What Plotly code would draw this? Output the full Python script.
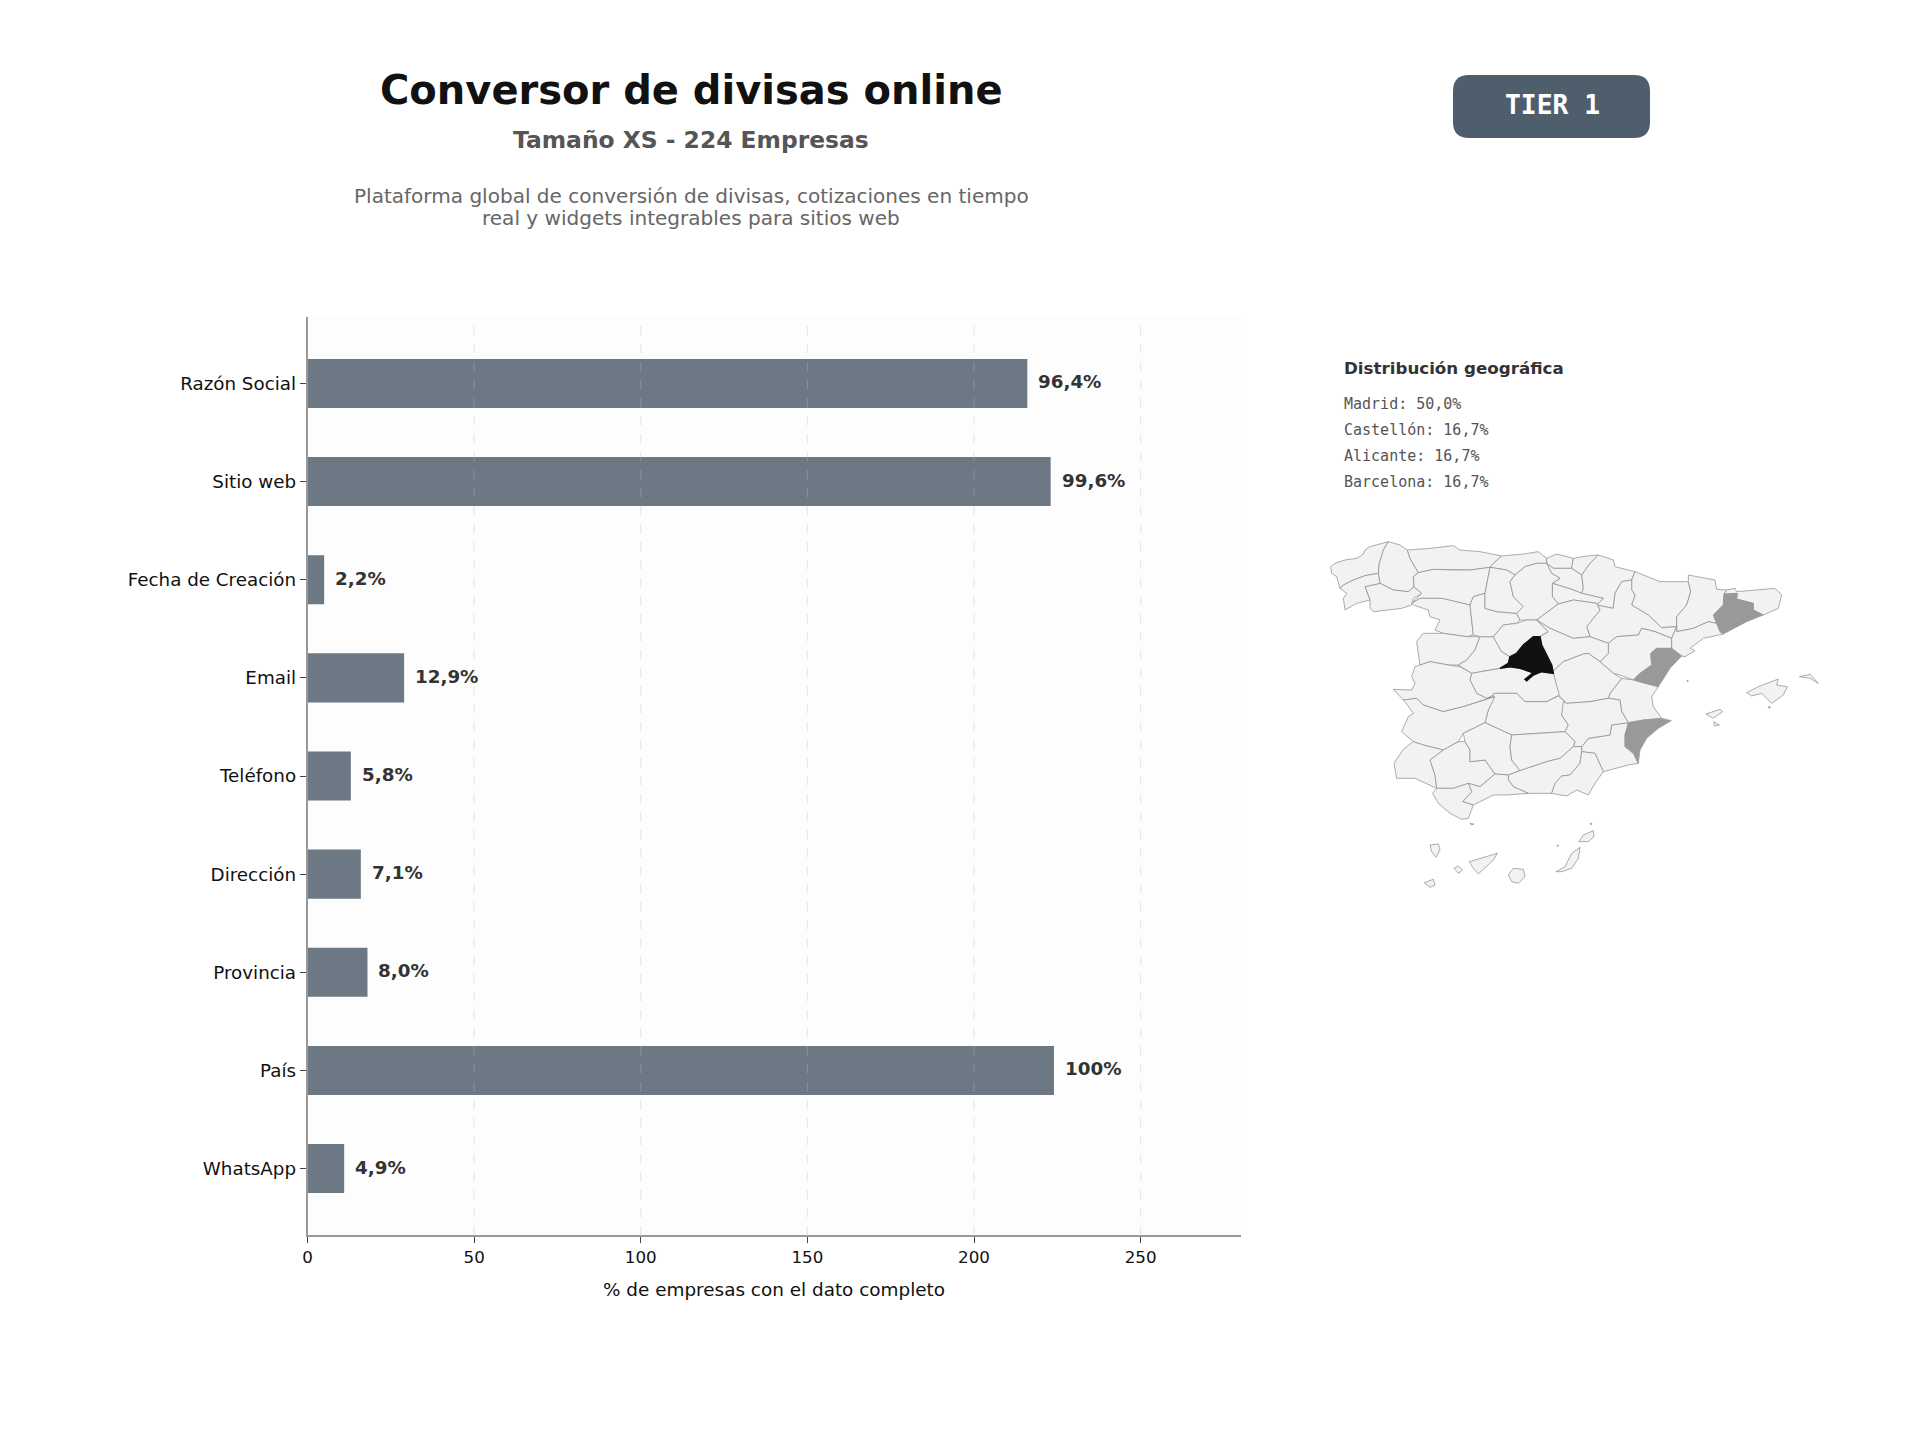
import plotly.graph_objects as go

# bar chart data
campos = ['Razón Social', 'Sitio web', 'Fecha de Creación', 'Email', 'Teléfono', 'Dirección', 'Provincia', 'País', 'WhatsApp']
empresas = [216, 223, 5, 29, 13, 16, 18, 224, 11]
etiquetas = ['96,4%', '99,6%', '2,2%', '12,9%', '5,8%', '7,1%', '8,0%', '100%', '4,9%']
ticks_x = [0, 50, 100, 150, 200, 250]

# geographic share
provincias_top = ['Madrid', 'Castellón', 'Alicante', 'Barcelona']
shares_top = [50.0, 16.7, 16.7, 16.7]
shares_txt = ['50,0%', '16,7%', '16,7%', '16,7%']

# province outlines, in map units
galicia = {
    'A Coruña': [(92,140),(105,130),(135,120),(170,115),(190,102),(195,90),(210,80),(240,72),(265,65),(250,90),(238,130),(235,160),(195,167),(160,180),(130,195),(120,205),(110,170),(95,160)],
    'Lugo': [(265,65),(300,75),(322,90),(330,115),(355,158),(340,170),(342,200),(325,215),(280,210),(240,190),(235,160),(238,130),(250,90)],
    'Ourense': [(195,200),(240,190),(280,210),(325,215),(342,200),(365,220),(340,235),(335,255),(305,265),(265,270),(220,275),(210,265),(210,240)],
    'Pontevedra': [(130,195),(160,180),(195,167),(235,160),(240,190),(195,200),(210,240),(170,250),(135,270),(130,235),(140,220),(120,205)],
}
norte = {
    'Asturias': [(322,90),(390,85),(460,77),(480,90),(540,95),(605,108),(580,130),(570,142),(510,150),(460,150),(400,148),(355,158),(330,115)],
    'Cantabria': [(605,108),(670,102),(715,95),(740,115),(740,130),(710,130),(675,140),(645,165),(620,150),(570,142),(580,130)],
    'Vizcaya': [(740,115),(770,102),(820,115),(815,145),(760,145),(740,130)],
    'Guipúzcoa': [(820,115),(860,108),(895,105),(870,130),(845,165),(815,145)],
    'Álava': [(740,130),(760,145),(815,145),(845,165),(850,205),(845,220),(815,208),(757,190),(780,175),(755,160)],
    'Navarra': [(895,105),(940,120),(945,140),(1005,155),(995,180),(965,185),(945,220),(940,265),(890,255),(910,235),(845,220),(850,205),(845,165),(870,130)],
    'La Rioja': [(757,190),(815,208),(845,220),(910,235),(890,255),(890,250),(820,240),(775,252),(757,230)],
}
aragon_cat = {
    'Huesca': [(1005,155),(1045,170),(1080,185),(1165,185),(1172,215),(1160,255),(1130,290),(1130,320),(1085,323),(1045,285),(995,255),(1005,225),(995,210),(995,180)],
    'Zaragoza': [(940,265),(945,220),(965,185),(995,180),(995,210),(1005,225),(995,255),(1045,285),(1085,323),(1130,320),(1115,355),(1065,335),(1025,325),(1015,345),(950,350),(925,370),(870,350),(860,320),(900,270),(890,250),(890,255)],
    'Teruel': [(925,370),(950,350),(1015,345),(1025,325),(1065,335),(1115,355),(1115,385),(1070,385),(1052,400),(1055,435),(1020,460),(1000,480),(960,465),(940,460),(900,425),(925,400)],
    'Lleida': [(1165,165),(1245,180),(1250,208),(1280,210),(1272,222),(1270,255),(1240,285),(1250,310),(1225,305),(1180,325),(1130,335),(1130,320),(1130,290),(1160,255),(1172,215),(1165,185)],
    'Girona': [(1280,210),(1305,205),(1310,215),(1380,208),(1425,205),(1445,225),(1435,265),(1390,285),(1360,270),(1360,250),(1310,237),(1312,220),(1272,222)],
    'Barcelona': [(1272,222),(1312,220),(1310,237),(1360,250),(1360,270),(1390,285),(1340,305),(1270,342),(1260,335),(1250,310),(1240,285),(1270,255)],
    'Tarragona': [(1130,335),(1180,325),(1225,305),(1250,310),(1260,335),(1270,342),(1210,355),(1170,385),(1185,392),(1155,410),(1145,408),(1115,385),(1115,355),(1130,320)],
}
levante = {
    'Castellón': [(1052,400),(1070,385),(1115,385),(1145,408),(1110,445),(1075,500),(1035,490),(1000,480),(1020,460),(1055,435)],
    'Valencia': [(1000,480),(1035,490),(1075,500),(1055,530),(1060,560),(1085,595),(1030,600),(985,608),(965,575),(960,540),(925,535),(930,520),(965,475)],
    'Alicante': [(985,608),(1030,600),(1085,595),(1114,602),(1075,625),(1040,655),(1020,690),(1015,730),(1000,700),(975,680),(975,645)],
    'Murcia': [(865,655),(930,645),(935,615),(985,608),(975,645),(975,680),(1000,700),(1015,730),(985,735),(910,755),(885,700),(845,695),(845,680)],
}
castilla = {
    'León': [(355,158),(400,148),(460,150),(510,150),(570,142),(555,220),(520,230),(510,255),(425,235),(360,235),(335,250),(365,220),(342,200),(340,170)],
    'Zamora': [(335,250),(360,235),(425,235),(510,255),(520,345),(500,350),(430,340),(405,330),(420,300),(390,290),(385,270),(340,255)],
    'Salamanca': [(350,365),(370,340),(430,340),(500,350),(540,350),(525,390),(500,420),(475,435),(445,435),(390,425),(360,435),(355,405)],
    'Ávila': [(475,435),(500,420),(525,390),(540,350),(580,350),(585,360),(605,395),(630,410),(625,430),(600,445),(515,460)],
    'Valladolid': [(510,255),(520,230),(555,220),(555,265),(590,275),(650,280),(660,300),(650,310),(610,315),(580,350),(540,350),(520,345)],
    'Palencia': [(570,142),(620,150),(645,165),(630,185),(640,230),(670,260),(650,280),(590,275),(555,265),(555,220)],
    'Burgos': [(645,165),(675,140),(710,130),(740,130),(755,160),(780,175),(757,190),(757,230),(775,252),(750,270),(710,300),(680,300),(660,300),(650,280),(670,260),(640,230),(630,185)],
    'Soria': [(775,252),(820,240),(890,250),(900,270),(860,320),(870,350),(820,355),(750,325),(710,300),(750,270)],
    'Segovia': [(580,350),(610,315),(650,310),(680,300),(710,300),(745,335),(720,350),(700,350),(670,375),(650,400),(630,410),(605,395),(585,360)],
    'Guadalajara': [(710,300),(750,325),(820,355),(870,350),(925,370),(925,400),(900,425),(865,400),(850,402),(790,425),(758,455),(755,435),(740,405),(725,375),(720,350),(745,335)],
    'Cuenca': [(758,455),(790,425),(850,402),(865,400),(900,425),(940,460),(965,475),(930,520),(925,535),(870,545),(800,550),(795,545),(775,525),(760,460)],
    'Madrid': [(600,445),(625,430),(630,410),(650,400),(670,375),(700,350),(720,350),(725,375),(740,405),(755,435),(760,460),(725,455),(700,465),(680,482),(675,478),(700,458),(660,445),(630,440)],
    'Toledo': [(515,460),(600,445),(630,440),(660,445),(700,458),(675,478),(680,482),(700,465),(725,455),(760,460),(778,525),(740,545),(675,545),(650,520),(590,520),(560,535),(530,520),(510,480)],
    'Ciudad Real': [(580,520),(650,520),(675,545),(740,545),(775,528),(795,545),(785,585),(805,615),(795,635),(710,640),(635,645),(555,608),(565,570),(580,530)],
    'Albacete': [(790,545),(785,585),(805,615),(795,635),(825,665),(820,680),(845,680),(865,655),(930,645),(935,615),(985,608),(965,575),(960,540),(925,535),(870,545),(800,550)],
}
oeste = {
    'Cáceres': [(280,508),(335,510),(345,490),(335,470),(345,440),(390,425),(445,435),(480,440),(515,460),(510,480),(530,520),(560,535),(580,530),(550,540),(490,560),(430,575),(370,555),(350,535),(310,540)],
    'Badajoz': [(310,540),(350,535),(370,555),(430,575),(490,560),(550,540),(585,530),(565,570),(555,608),(490,640),(475,665),(430,690),(370,675),(340,665),(305,635),(325,590),(340,580),(315,545)],
}
andalucia = {
    'Huelva': [(340,665),(370,675),(430,690),(390,720),(405,765),(410,805),(345,775),(290,775),(282,730),(310,688)],
    'Sevilla': [(430,690),(475,665),(495,665),(510,690),(510,725),(555,720),(585,762),(540,800),(505,790),(460,805),(410,805),(405,765),(390,720)],
    'Córdoba': [(555,608),(490,640),(495,665),(510,690),(510,725),(555,720),(585,762),(625,765),(660,752),(635,720),(630,680),(635,645)],
    'Jaén': [(635,645),(710,640),(795,635),(825,665),(820,680),(780,715),(740,725),(660,752),(635,720),(630,680)],
    'Granada': [(625,765),(660,752),(740,725),(780,715),(820,680),(845,680),(845,695),(840,730),(810,765),(785,768),(765,790),(755,820),(685,820),(640,800),(625,780)],
    'Almería': [(845,695),(885,700),(910,755),(885,790),(865,825),(830,810),(800,828),(755,820),(765,790),(785,768),(810,765),(840,730)],
    'Málaga': [(505,790),(540,800),(585,762),(625,765),(625,780),(640,800),(685,820),(620,825),(580,825),(520,855),(488,845),(515,815)],
    'Cádiz': [(410,805),(460,805),(505,790),(515,815),(488,845),(520,855),(505,895),(485,898),(450,880),(415,850),(398,820)],
}
islas = {
    'Mallorca': [(1340,518),(1375,500),(1435,477),(1430,495),(1462,500),(1450,525),(1415,550),(1385,520),(1355,528)],
    'Menorca': [(1498,470),(1530,463),(1555,490),(1530,475)],
    'Ibiza': [(1218,582),(1260,568),(1268,575),(1240,595)],
    'Formentera': [(1241,605),(1258,615),(1243,618)],
    'Cabrera': [(1405,560),(1411,560),(1408,566)],
    'Columbretes': [(1161,482),(1165,482),(1163,486)],
    'Ceuta': [(510,910),(522,912),(514,915)],
    'Alborán': [(771,975),(776,976),(773,980)],
    'Alegranza': [(870,910),(876,910),(873,915)],
    'El Hierro': [(373,1088),(400,1078),(405,1095),(390,1102)],
    'La Palma': [(390,975),(415,972),(420,990),(408,1012),(395,995)],
    'La Gomera': [(462,1045),(475,1038),(488,1050),(475,1060)],
    'Tenerife': [(508,1025),(560,1010),(592,1000),(580,1020),(550,1050),(535,1062),(520,1045)],
    'Gran Canaria': [(625,1065),(640,1045),(670,1048),(675,1070),(655,1090),(635,1085)],
    'Fuerteventura': [(768,1055),(795,1040),(815,1000),(840,982),(835,1015),(815,1045),(785,1055)],
    'Lanzarote': [(837,965),(850,945),(880,932),(882,950),(865,965)],
}
outlines = {}
for region in [galicia, norte, aragon_cat, levante, castilla, oeste, andalucia, islas]:
    outlines.update(region)


def province_color(name):
    if name not in provincias_top:
        return '#f2f2f2'
    return '#111111' if shares_top[provincias_top.index(name)] >= 50 else '#999999'


W, H = 1920, 1440
fig = go.Figure()

fig.add_trace(go.Bar(x=empresas, y=campos, orientation='h', marker=dict(color='#6c7883', line_width=0),
                     width=0.5, hoverinfo='skip', showlegend=False))

# light provinces first so the shaded ones stay on top
for name in sorted(outlines, key=lambda n: n in provincias_top):
    pts = outlines[name]
    color = province_color(name)
    xs = [p[0] for p in pts] + [pts[0][0]]
    ys = [p[1] for p in pts] + [pts[0][1]]
    fig.add_trace(go.Scatter(x=xs, y=ys, xaxis='x2', yaxis='y2', mode='lines', fill='toself', fillcolor=color,
                             line=dict(color=color if color != '#f2f2f2' else '#8a8a8a', width=0.7 if color != '#111111' else 1.5),
                             hoverinfo='skip', showlegend=False))

# value labels next to the bars
for c, v, t in zip(campos, empresas, etiquetas):
    fig.add_annotation(x=v, y=c, text='<b>' + t + '</b>', xanchor='left', xshift=9, yshift=1.5, showarrow=False,
                       font=dict(family='DejaVu Sans', size=18.3, color='#333333'))

# grid sits above the bars in the reference
for t in ticks_x[1:]:
    fig.add_shape(type='line', xref='x', yref='paper', x0=t, x1=t, y0=1 - 1235.3 / H, y1=1 - 316.7 / H,
                  line=dict(color='rgba(190,190,190,0.35)', width=1.2, dash='dash'), layer='above')

# panel background only behind the bars
fig.add_shape(type='rect', xref='x domain', yref='y domain', x0=0, x1=1, y0=0, y1=1, fillcolor='#fdfdfd',
              line_width=0, layer='below')


def text(x, y, s, size, color, family='DejaVu Sans', anchor='center'):
    fig.add_annotation(xref='paper', yref='paper', x=x / W, y=1 - y / H, text=s, showarrow=False, xanchor=anchor,
                       yanchor='middle', font=dict(family=family, size=size, color=color))


text(691, 90, '<b>Conversor de divisas online</b>', 40, '#111111')
text(691, 140, '<b>Tamaño XS - 224 Empresas</b>', 23.4, '#555555')
text(691, 196, 'Plataforma global de conversión de divisas, cotizaciones en tiempo', 20.05, '#666666')
text(691, 218, 'real y widgets integrables para sitios web', 20.05, '#666666')
text(1552, 105, '<b>TIER 1</b>', 26.3, '#ffffff', family='DejaVu Sans Mono')
text(1341.5, 368, '<b>Distribución geográfica</b>', 16.7, '#333333', anchor='left')
for i, (p, s) in enumerate(zip(provincias_top, shares_txt)):
    text(1341.5, 404 + i * 26, p + ': ' + s, 15, '#555555', family='DejaVu Sans Mono', anchor='left')

# TIER badge
fig.add_shape(type='path', xref='paper', yref='paper', layer='below', fillcolor='#4f5e6d', line_width=0,
              path='M {0},{1} L {2},{1} Q {3},{1} {3},{4} L {3},{5} Q {3},{6} {2},{6} L {0},{6} Q {7},{6} {7},{5} L {7},{4} Q {7},{1} {0},{1} Z'.format(
                  (1453 + 16) / W, 1 - 75 / H, (1650 - 16) / W, 1650 / W, 1 - 91 / H, 1 - 122 / H, 1 - 138 / H, 1453 / W))

fig.update_layout(
    width=W, height=H, margin=dict(l=0, r=0, t=0, b=0, autoexpand=False), paper_bgcolor='white', plot_bgcolor='white',
    font=dict(family='DejaVu Sans', color='#111111'), bargap=0.5,
    xaxis=dict(domain=[307.5 / W, 1240.6 / W], range=[0, 280], tickvals=ticks_x, showgrid=False, zeroline=False,
               showline=True, linecolor='#999999', linewidth=1.5, ticks='outside', ticklen=6, tickcolor='#444444',
               tickfont=dict(size=16.7), title=dict(text='% de empresas con el dato completo', font=dict(size=18.4), standoff=17)),
    yaxis=dict(domain=[1 - 1235.3 / H, 1 - 316.7 / H], range=[8.68, -0.68], showgrid=False, zeroline=False,
               showline=True, linecolor='#999999', linewidth=1.5, ticks='outside', ticklen=6, tickcolor='#444444',
               tickfont=dict(size=18.3), type='category', categoryorder='array', categoryarray=campos),
    xaxis2=dict(domain=[1300 / W, 1860 / W], range=[0, 1680], visible=False, anchor='y2', fixedrange=True),
    yaxis2=dict(domain=[1 - 900 / H, 1 - 520 / H], range=[1140, 0], visible=False, anchor='x2', fixedrange=True),
)

fig.write_html("out.html", config={'displayModeBar': False}, post_script="document.body.style.margin='0';")
